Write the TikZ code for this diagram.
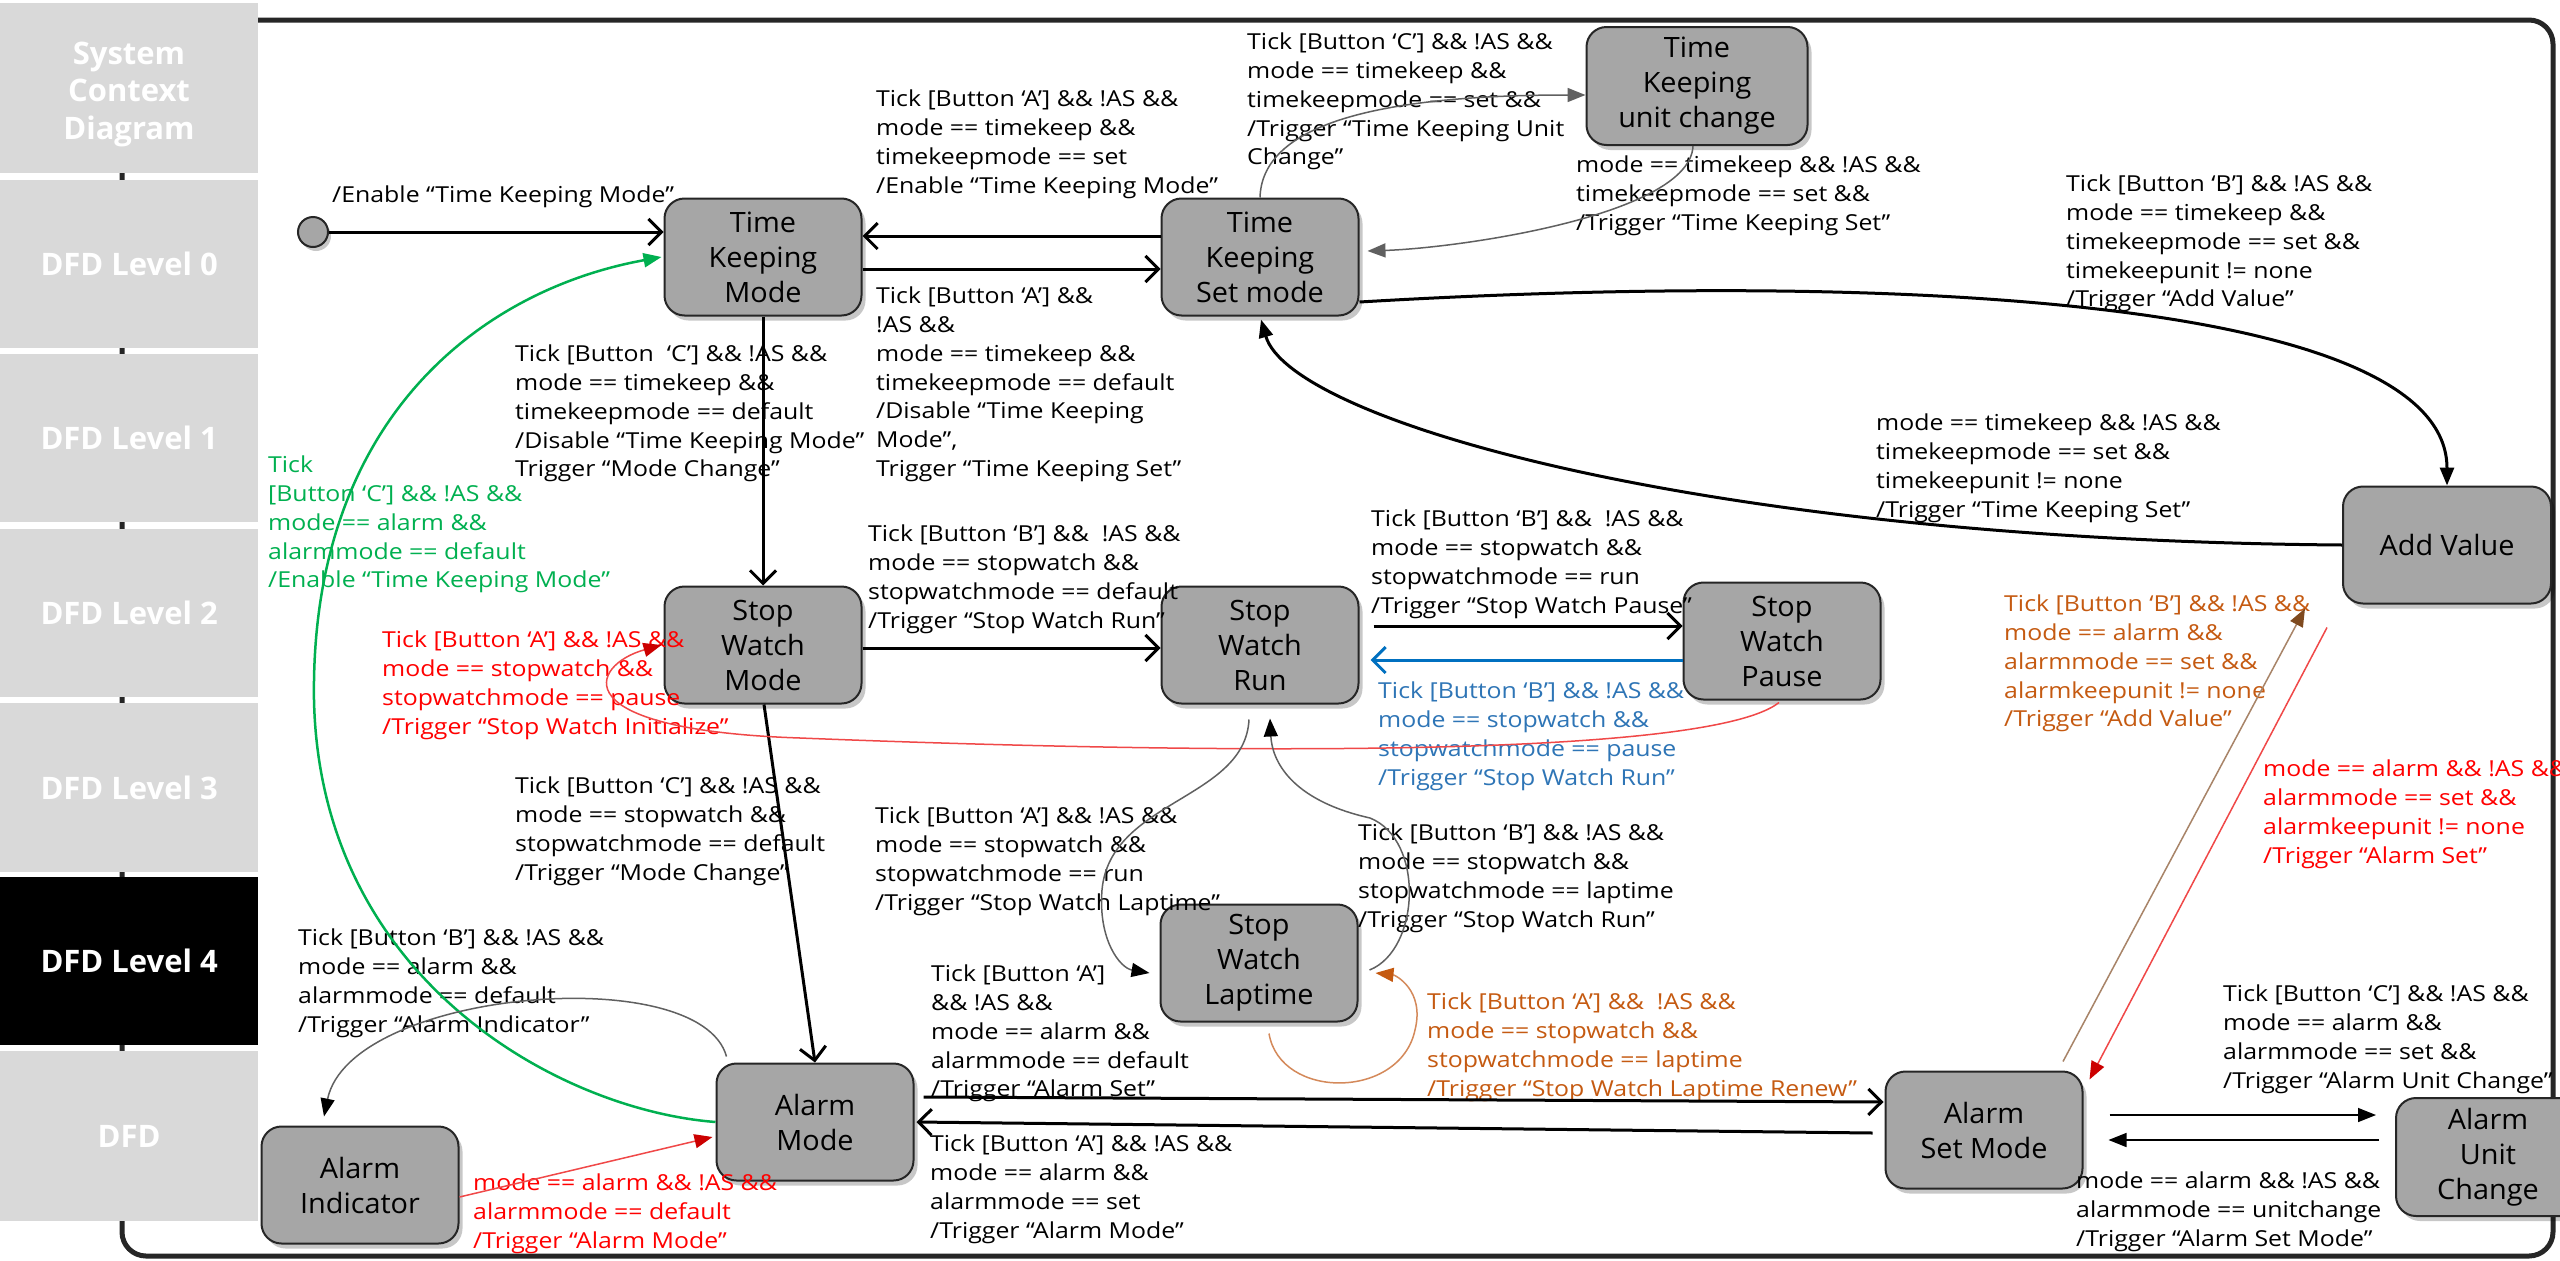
\documentclass[tikz,border=0pt]{standalone}
\usepackage{fontspec}
\setmainfont{Open Sans}
\newfontfamily\labf{Open Sans}[FakeStretch=1.13]
\newfontfamily\stf{Open Sans}[FakeStretch=1.03]
\usetikzlibrary{arrows.meta,shadows,calc}
\definecolor{stgray}{HTML}{A6A6A6}
\definecolor{sidegray}{HTML}{D9D9D9}
\definecolor{grn}{HTML}{00B050}
\definecolor{redtxt}{HTML}{FF0000}
\definecolor{redln}{HTML}{F04848}
\definecolor{redtip}{HTML}{CC0000}
\definecolor{bluetxt}{HTML}{2E75B6}
\definecolor{blueln}{HTML}{0070C0}
\definecolor{orgtxt}{HTML}{C55A11}
\definecolor{orgln}{HTML}{D4895A}
\definecolor{brnln}{HTML}{A88468}
\definecolor{brntip}{HTML}{7F4A1F}
\definecolor{grayln}{HTML}{606060}
\begin{document}
\begin{tikzpicture}[x=1pt,y=-1pt,
  stnode/.style={draw=black!85, line width=2pt, fill=stgray, rounded corners=20pt,
    minimum width=197pt, minimum height=117pt, align=center, inner sep=0pt,
    font=\stf\fontsize{28}{35}\selectfont,
    drop shadow={shadow xshift=4pt, shadow yshift=-5pt, fill=black, opacity=0.22}},
  lab/.style={anchor=north west, align=left, inner sep=0pt, font=\labf\fontsize{22}{28.7}\selectfont},
  sidebox/.style={anchor=north west, fill=sidegray, text=white, minimum width=258pt,
    minimum height=169pt, inner sep=0pt, align=center,
    font=\fontsize{31}{38}\selectfont\bfseries},
  openarr/.style={line width=3pt, -{Straight Barb[length=13pt,width=26pt]}},
  filarr/.style={line width=1.5pt, -{Triangle[length=18pt,width=14pt]}},
]
\useasboundingbox (0,0) rectangle (2560,1261);
\fill[white] (0,0) rectangle (2560,1261);
\clip (0,0) rectangle (2560,1261);

% outer frame
\draw[line width=5pt, draw=black!85, rounded corners=24pt] (122,20) rectangle (2553,1256);

% sidebar
\node[sidebox, minimum height=170pt] (s0) at (0,3) {};
\node[font=\fontsize{31}{37.5}\selectfont\bfseries, text=white, align=center, inner sep=0pt] (s0t) at (129,94) {System\\Context\\Diagram};
\node[sidebox, minimum height=168pt] (s1) at (0,180) {DFD Level 0};
\node[sidebox, minimum height=168pt] (s2) at (0,354) {DFD Level 1};
\node[sidebox, minimum height=168pt] (s3) at (0,529) {DFD Level 2};
\node[sidebox, minimum height=169pt] (s4) at (0,703) {DFD Level 3};
\node[sidebox, minimum height=168pt, fill=black] (s5) at (0,877) {DFD Level 4};
\node[sidebox, minimum height=170pt] (s6) at (0,1051) {DFD};

% states
\node[circle, draw=black!85, line width=2pt, fill=stgray, minimum size=30pt, inner sep=0pt,
  drop shadow={shadow xshift=3pt, shadow yshift=-4pt, fill=black, opacity=0.22}] (init) at (313,232) {};
\node[stnode] (TKM) at (763,257) {Time\\Keeping\\Mode};
\node[stnode] (TKS) at (1260,257) {Time\\Keeping\\Set mode};
\node[stnode, minimum width=221pt, minimum height=118pt] (TKU) at (1697,86) {Time\\Keeping\\unit change};
\node[stnode, minimum width=208pt] (AV) at (2447,545) {Add Value};
\node[stnode] (SWM) at (763,645) {Stop\\Watch\\Mode};
\node[stnode] (SWR) at (1260,645) {Stop\\Watch\\Run};
\node[stnode] (SWP) at (1782,641) {Stop\\Watch\\Pause};
\node[stnode] (SWL) at (1259,963) {Stop\\Watch\\Laptime};
\node[stnode] (AM) at (815,1122) {Alarm\\Mode};
\node[stnode] (AI) at (360,1185) {Alarm\\Indicator};
\node[stnode] (ASM) at (1984,1130) {Alarm\\Set Mode};
\node[stnode, minimum width=184pt, minimum height=118pt] (AUC) at (2488,1157) {Alarm\\Unit\\Change};

% labels
\node[lab] (l1) at (332,186) {/Enable “Time Keeping Mode”};
\node[lab] (l2) at (876,90) {Tick [Button ‘A’] \&\& !AS \&\&\\mode == timekeep \&\&\\timekeepmode == set\\/Enable “Time Keeping Mode”};
\node[lab] (l3) at (876,287) {Tick [Button ‘A’] \&\&\\!AS \&\&\\mode == timekeep \&\&\\timekeepmode == default\\/Disable “Time Keeping\\Mode”,\\Trigger “Time Keeping Set”};
\node[lab] (l4) at (515,345) {Tick [Button \ ‘C’] \&\& !AS \&\&\\mode == timekeep \&\&\\timekeepmode == default\\/Disable “Time Keeping Mode”\\Trigger “Mode Change”};
\node[lab] (l5) at (1247,33) {Tick [Button ‘C’] \&\& !AS \&\&\\mode == timekeep \&\&\\timekeepmode == set \&\&\\/Trigger “Time Keeping Unit\\Change”};
\node[lab] (l6) at (1576,156) {mode == timekeep \&\& !AS \&\&\\timekeepmode == set \&\&\\/Trigger “Time Keeping Set”};
\node[lab] (l7) at (2066,175) {Tick [Button ‘B’] \&\& !AS \&\&\\mode == timekeep \&\&\\timekeepmode == set \&\&\\timekeepunit != none\\/Trigger “Add Value”};
\node[lab] (l8) at (1876,414) {mode == timekeep \&\& !AS \&\&\\timekeepmode == set \&\&\\timekeepunit != none\\/Trigger “Time Keeping Set”};
\node[lab, text=grn] (l9) at (268,456) {Tick\\{}[Button ‘C’] \&\& !AS \&\&\\mode == alarm \&\&\\alarmmode == default\\/Enable “Time Keeping Mode”};
\node[lab, text=redtxt] (l10) at (382,631) {Tick [Button ‘A’] \&\& !AS \&\&\\mode == stopwatch \&\&\\stopwatchmode == pause\\/Trigger “Stop Watch Initialize”};
\node[lab] (l11) at (868,525) {Tick [Button ‘B’] \&\& \ !AS \&\&\\mode == stopwatch \&\&\\stopwatchmode == default\\/Trigger “Stop Watch Run”};
\node[lab] (l12) at (1371,510) {Tick [Button ‘B’] \&\& \ !AS \&\&\\mode == stopwatch \&\&\\stopwatchmode == run\\/Trigger “Stop Watch Pause”};
\node[lab, text=bluetxt] (l13) at (1378,682) {Tick [Button ‘B’] \&\& !AS \&\&\\mode == stopwatch \&\&\\stopwatchmode == pause\\/Trigger “Stop Watch Run”};
\node[lab] (l14) at (515,777) {Tick [Button ‘C’] \&\& !AS \&\&\\mode == stopwatch \&\&\\stopwatchmode == default\\/Trigger “Mode Change”};
\node[lab] (l15) at (875,807) {Tick [Button ‘A’] \&\& !AS \&\&\\mode == stopwatch \&\&\\stopwatchmode == run\\/Trigger “Stop Watch Laptime”};
\node[lab] (l16) at (1358,824) {Tick [Button ‘B’] \&\& !AS \&\&\\mode == stopwatch \&\&\\stopwatchmode == laptime\\/Trigger “Stop Watch Run”};
\node[lab, text=orgtxt] (l17) at (1427,993) {Tick [Button ‘A’] \&\& \ !AS \&\&\\mode == stopwatch \&\&\\stopwatchmode == laptime\\/Trigger “Stop Watch Laptime Renew”};
\node[lab] (l18) at (298,929) {Tick [Button ‘B’] \&\& !AS \&\&\\mode == alarm \&\&\\alarmmode == default\\/Trigger “Alarm Indicator”};
\node[lab, text=redtxt] (l19) at (473,1174) {mode == alarm \&\& !AS \&\&\\alarmmode == default\\/Trigger “Alarm Mode”};
\node[lab] (l20) at (931,965) {Tick [Button ‘A’]\\\&\& !AS \&\&\\mode == alarm \&\&\\alarmmode == default\\/Trigger “Alarm Set”};
\node[lab] (l21) at (930,1135) {Tick [Button ‘A’] \&\& !AS \&\&\\mode == alarm \&\&\\alarmmode == set\\/Trigger “Alarm Mode”};
\node[lab, text=orgtxt] (l22) at (2004,595) {Tick [Button ‘B’] \&\& !AS \&\&\\mode == alarm \&\&\\alarmmode == set \&\&\\alarmkeepunit != none\\/Trigger “Add Value”};
\node[lab, text=redtxt] (l23) at (2263,760) {mode == alarm \&\& !AS \&\&\\alarmmode == set \&\&\\alarmkeepunit != none\\/Trigger “Alarm Set”};
\node[lab] (l24) at (2223,985) {Tick [Button ‘C’] \&\& !AS \&\&\\mode == alarm \&\&\\alarmmode == set \&\&\\/Trigger “Alarm Unit Change”};
\node[lab] (l25) at (2076,1172) {mode == alarm \&\& !AS \&\&\\alarmmode == unitchange\\/Trigger “Alarm Set Mode”};

% connectors
\draw[openarr] (init.east) -- (init.east -| TKM.west);
\draw[openarr] ($(TKS.west)+(0,-21)$) -- ($(TKM.east)+(0,-21)$);
\draw[openarr] ($(TKM.east)+(0,12)$) -- ($(TKS.west)+(0,12)$);
\draw[filarr, draw=grayln] (TKS.north) .. controls (1262,130) and (1360,95) .. ($(TKU.west)+(0,9)$);
\draw[filarr, draw=grayln] ($(TKU.south)+(-4,0)$) .. controls (1690,215) and (1460,248) .. ($(TKS.east)+(8,-6)$);
\draw[line width=3pt, -{Triangle[length=18pt,width=14pt]}] ($(TKS.east)+(0,45)$) .. controls (1900,270) and (2447,300) .. (AV.north);
\draw[line width=3pt, -{Triangle[length=18pt,width=14pt]}] (AV.west) .. controls (1700,540) and (1290,420) .. ($(TKS.south)+(1,3)$);
\draw[openarr] (TKM.south) -- (SWM.north);
\draw[openarr] ($(SWM.south)+(1,0)$) -- (AM.north);
\draw[line width=2.5pt, draw=grn, -{Triangle[length=18pt,width=14pt]}] (AM.west) .. controls (560,1110) and (320,980) .. (314,700) .. controls (310,420) and (480,290) .. ($(TKM.west)+(-2,0)$);
\draw[openarr] ($(SWM.east)+(0,3)$) -- ($(SWR.west)+(0,3)$);
\draw[openarr] ($(SWR.east)+(14,-19)$) -- ($(SWP.west)+(0,-15)$);
\draw[openarr, draw=blueln] ($(SWP.west)+(0,19)$) -- ($(SWR.east)+(11,15)$);
\draw[filarr, draw=redln, -{Triangle[length=18pt,width=14pt,color=redtip]}] ($(SWP.south)+(-3,2)$) .. controls (1700,765) and (1100,750) .. (800,738) .. controls (560,730) and (590,665) .. ($(SWM.west)+(-2,0)$);
\draw[filarr, draw=grayln, -{Triangle[length=18pt,width=14pt,color=black]}] ($(SWR.south)+(-11,15)$) .. controls (1245,800) and (1110,800) .. (1102,890) .. controls (1098,940) and (1120,968) .. ($(SWL.west)+(-10,10)$);
\draw[filarr, draw=grayln, -{Triangle[length=18pt,width=14pt,color=black]}] ($(SWL.east)+(11,7)$) .. controls (1420,950) and (1425,840) .. (1370,818) .. controls (1290,800) and (1272,760) .. ($(SWR.south)+(10,14)$);
\draw[filarr, draw=orgln, -{Triangle[length=18pt,width=14pt,color=orgtxt]}] ($(SWL.south)+(10,11)$) .. controls (1280,1100) and (1400,1100) .. (1415,1030) .. controls (1425,990) and (1395,975) .. ($(SWL.east)+(17,10)$);
\draw[filarr, draw=grayln, -{Triangle[length=18pt,width=14pt,color=black]}] ($(AM.north west)+(11,-6)$) .. controls (700,960) and (350,990) .. ($(AI.north)+(-36,-9)$);
\draw[filarr, draw=redln, -{Triangle[length=18pt,width=14pt,color=redtip]}] ($(AI.east)+(0,12)$) -- ($(AM.west)+(-3,15)$);
\draw[openarr] ($(AM.east)+(9,-25)$) -- ($(ASM.west)+(-1,-28)$);
\draw[openarr] ($(ASM.west)+(-12,3)$) -- ($(AM.east)+(2,0)$);
\draw[filarr, draw=brnln, -{Triangle[length=18pt,width=14pt,color=brntip]}] ($(ASM.north)+(79,-9)$) -- ($(AV.south west)+(-37,4)$);
\draw[filarr, draw=redln, -{Triangle[length=18pt,width=14pt,color=redtip]}] ($(AV.south west)+(-15,23)$) -- ($(ASM.north east)+(6,9)$);
\draw[filarr, draw=black] ($(ASM.east)+(26,-15)$) -- ($(AUC.west)+(-19,-42)$);
\draw[filarr, draw=black] ($(AUC.west)+(-16,-17)$) -- ($(ASM.east)+(25,10)$);
\end{tikzpicture}
\end{document}
